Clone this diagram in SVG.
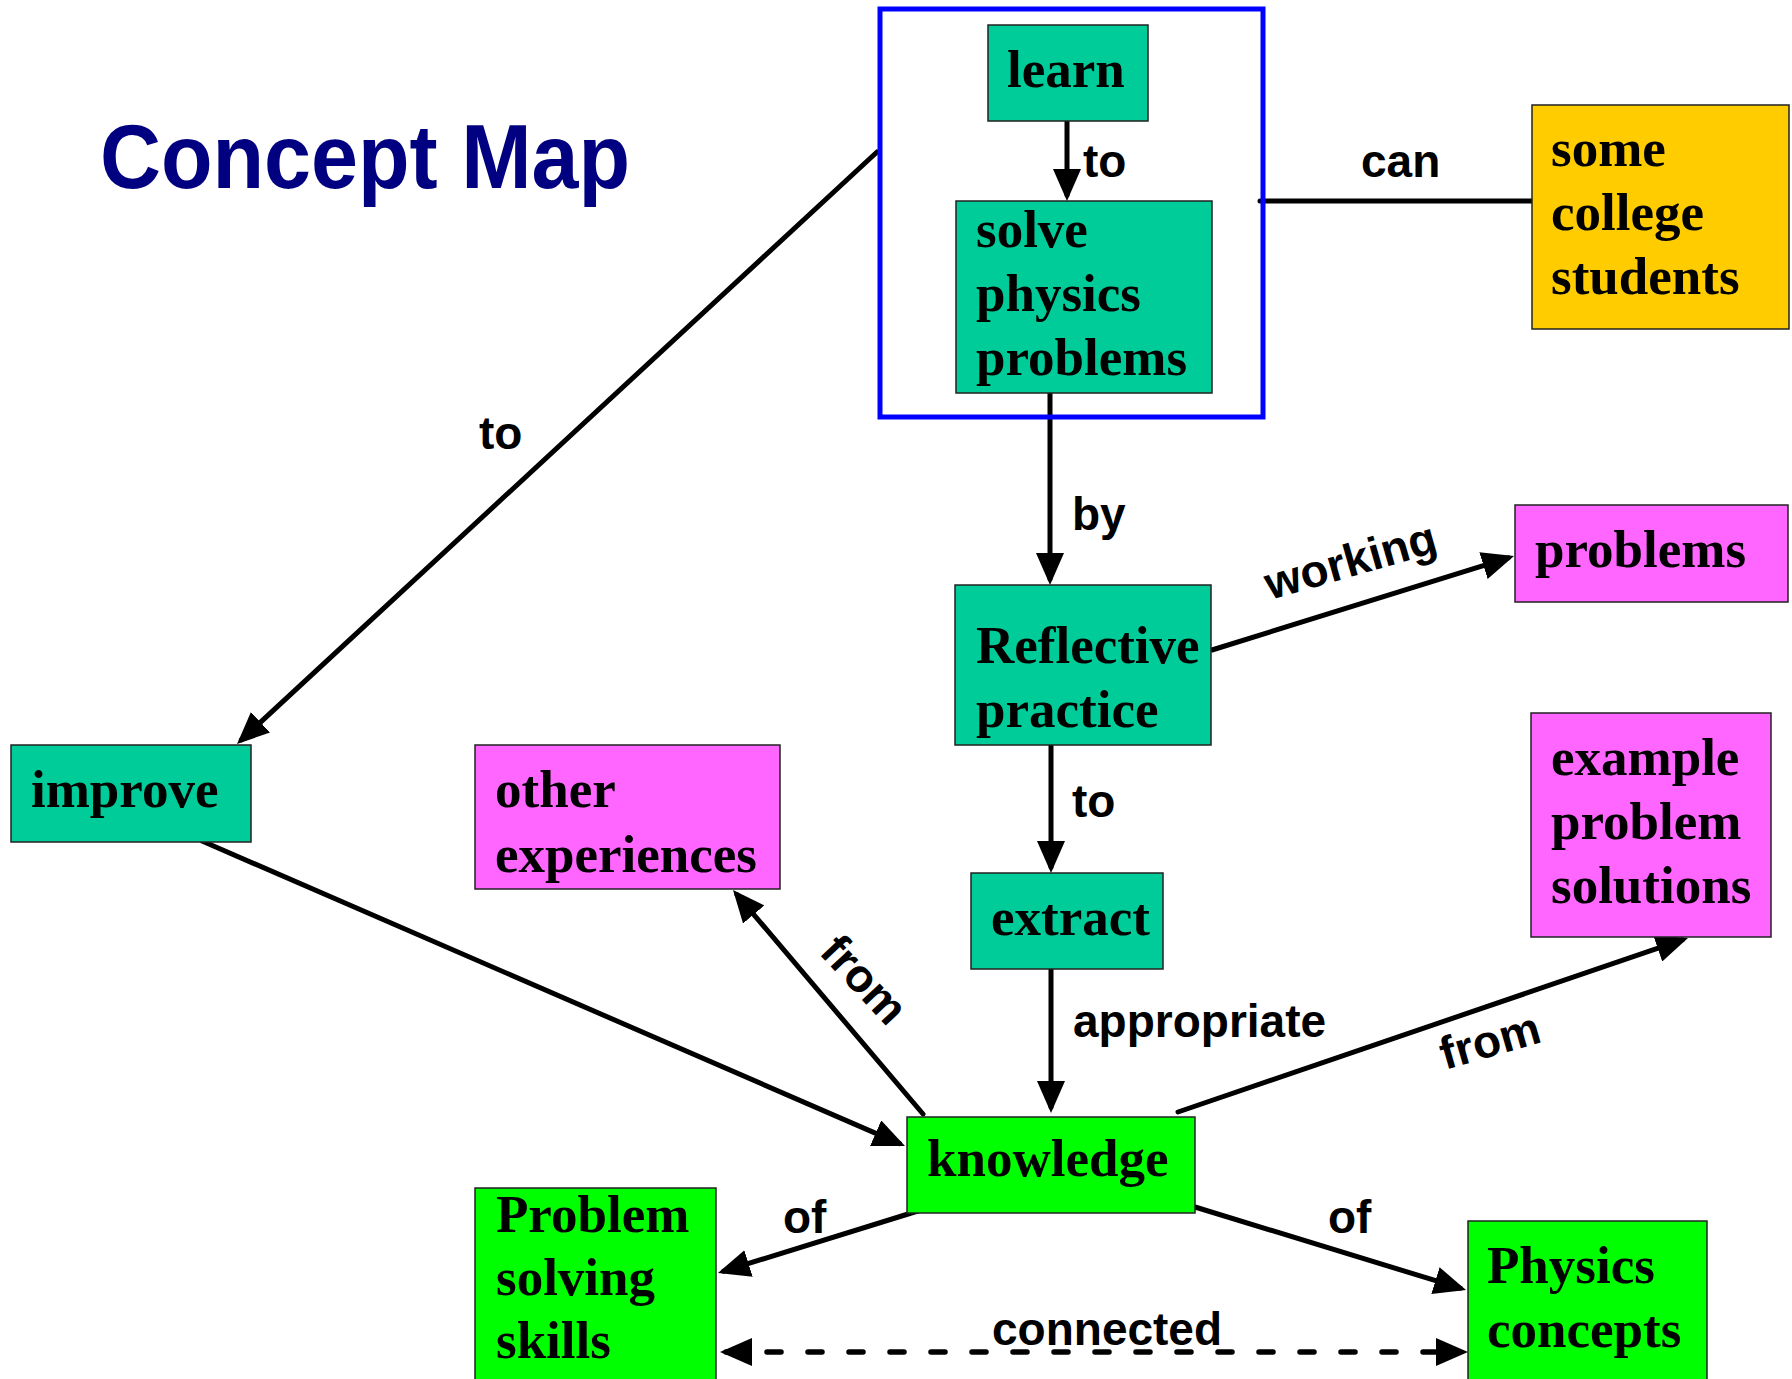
<svg xmlns="http://www.w3.org/2000/svg" width="1792" height="1379" viewBox="0 0 1792 1379">
<defs>
<style>
.node{stroke:#222;stroke-width:1.5}
.teal{fill:#00CC99}
.yellow{fill:#FFCC00}
.mag{fill:#FF66FF}
.green{fill:#00FF00}
.nt{font-family:"Liberation Serif","Times New Roman",serif;font-weight:bold;font-size:53px;fill:#000}
.lbl{font-family:"Liberation Sans",Arial,sans-serif;font-weight:bold;font-size:46px;fill:#000}
.edge{stroke:#000;stroke-width:5;fill:none;stroke-linecap:round}
.arr{marker-end:url(#ah)}
.dash{stroke:#000;stroke-width:5.5;fill:none;stroke-dasharray:14 27;stroke-linecap:round}
</style>
<marker id="ah" markerUnits="userSpaceOnUse" viewBox="0 0 32 28" refX="26" refY="14" markerWidth="32" markerHeight="28" orient="auto-start-reverse">
<path d="M0,0 L32,14 L0,28 z" fill="#000"/>
</marker>
</defs>
<rect width="1792" height="1379" fill="#fff"/>
<text x="100" y="188" font-family="'Liberation Sans',Arial,sans-serif" font-weight="bold" font-size="90" fill="#000080" textLength="530" lengthAdjust="spacingAndGlyphs">Concept Map</text>

<g id="connectors">
<line class="edge arr" x1="1067" y1="121" x2="1067" y2="195"/>
<line class="edge arr" x1="1050" y1="393" x2="1050" y2="579"/>
<line class="edge arr" x1="1212" y1="650" x2="1508.3" y2="557.8"/>
<line class="edge arr" x1="1051" y1="745" x2="1051" y2="867"/>
<line class="edge arr" x1="1051" y1="969" x2="1051" y2="1107"/>
<line class="edge arr" x1="923" y1="1114" x2="736.9" y2="894.6"/>
<line class="edge arr" x1="202" y1="841" x2="899.5" y2="1143.6"/>
<line class="edge arr" x1="1178" y1="1112" x2="1682.3" y2="939.9"/>
<line class="edge arr" x1="921" y1="1210" x2="723.7" y2="1271.2"/>
<line class="edge arr" x1="1195" y1="1207" x2="1460.3" y2="1288.2"/>
<line class="edge arr" x1="877" y1="152" x2="241.4" y2="739.9"/>
<line class="edge" x1="1260" y1="201" x2="1532" y2="201"/>
<line class="dash" x1="726" y1="1352" x2="1462" y2="1352" marker-start="url(#ah)" marker-end="url(#ah)"/>
<text class="lbl" x="1083" y="177">to</text>
<text class="lbl" x="1361" y="177">can</text>
<text class="lbl" x="479" y="449">to</text>
<text class="lbl" x="1072" y="530">by</text>
<text class="lbl" transform="translate(1270,600) rotate(-16)">working</text>
<text class="lbl" x="1072" y="817">to</text>
<text class="lbl" transform="translate(818,953) rotate(47)">from</text>
<text class="lbl" x="1073" y="1037">appropriate</text>
<text class="lbl" transform="translate(1445,1070) rotate(-16)">from</text>
<text class="lbl" x="783" y="1233">of</text>
<text class="lbl" x="1328" y="1233">of</text>
<text class="lbl" x="992" y="1345">connected</text>
</g>

<g id="group-box"><rect x="880" y="9" width="383" height="408" fill="none" stroke="#0000FF" stroke-width="5"/></g>

<g id="learn"><rect class="node teal" x="988" y="25" width="160" height="96"/><text class="nt" x="1007" y="87">learn</text></g>
<g id="solve"><rect class="node teal" x="956" y="201" width="256" height="192"/><text class="nt" x="976" y="247">solve</text><text class="nt" x="976" y="311">physics</text><text class="nt" x="976" y="375">problems</text></g>
<g id="students"><rect class="node yellow" x="1532" y="105" width="257" height="224"/><text class="nt" x="1551" y="166">some</text><text class="nt" x="1551" y="230">college</text><text class="nt" x="1551" y="294">students</text></g>
<g id="reflective"><rect class="node teal" x="955" y="585" width="256" height="160"/><text class="nt" x="976" y="663">Reflective</text><text class="nt" x="976" y="727">practice</text></g>
<g id="problems"><rect class="node mag" x="1515" y="505" width="273" height="97"/><text class="nt" x="1535" y="567">problems</text></g>
<g id="improve"><rect class="node teal" x="11" y="745" width="240" height="97"/><text class="nt" x="31" y="807">improve</text></g>
<g id="other"><rect class="node mag" x="475" y="745" width="305" height="144"/><text class="nt" x="495" y="807">other</text><text class="nt" x="495" y="872">experiences</text></g>
<g id="example"><rect class="node mag" x="1531" y="713" width="240" height="224"/><text class="nt" x="1551" y="775">example</text><text class="nt" x="1551" y="839">problem</text><text class="nt" x="1551" y="903">solutions</text></g>
<g id="extract"><rect class="node teal" x="971" y="873" width="192" height="96"/><text class="nt" x="991" y="935">extract</text></g>
<g id="knowledge"><rect class="node green" x="907" y="1117" width="288" height="96"/><text class="nt" x="927" y="1176">knowledge</text></g>
<g id="pss"><rect class="node green" x="475" y="1188" width="241" height="200"/><text class="nt" x="496" y="1232">Problem</text><text class="nt" x="496" y="1295">solving</text><text class="nt" x="496" y="1358">skills</text></g>
<g id="physics"><rect class="node green" x="1468" y="1221" width="239" height="170"/><text class="nt" x="1487" y="1283">Physics</text><text class="nt" x="1487" y="1347">concepts</text></g>
</svg>
